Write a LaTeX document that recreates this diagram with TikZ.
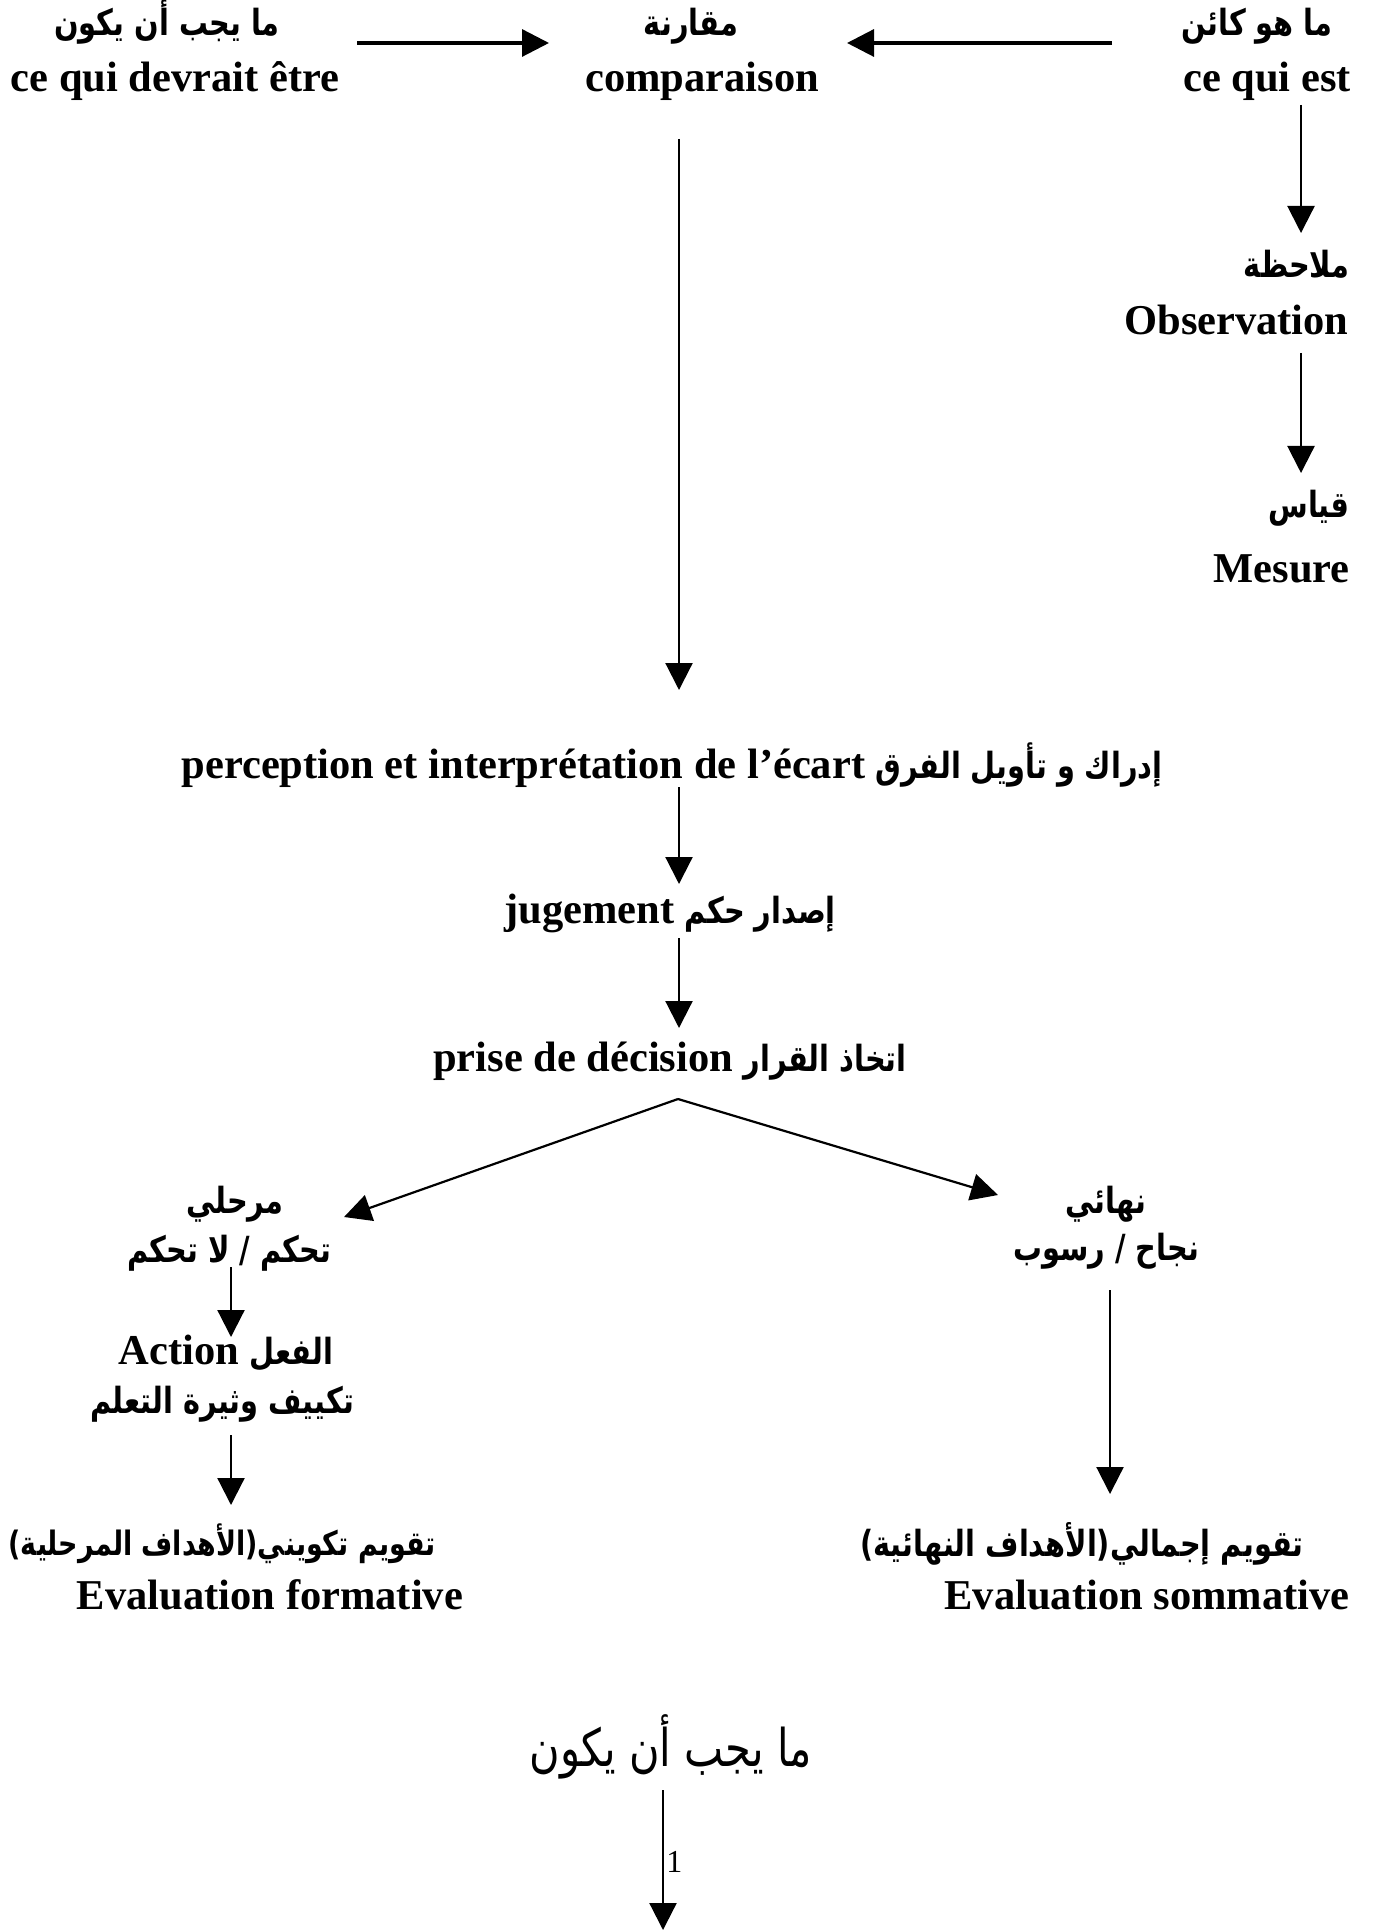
\documentclass[tikz,border=0pt]{standalone}
\usepackage{fontspec}
\setmainfont{Liberation Serif}
\newfontfamily\arabicfont[Script=Arabic,FakeStretch=0.8]{DejaVu Sans}
\TeXXeTstate=1
\usetikzlibrary{arrows.meta}
\newcommand\latb{\fontsize{21.25}{25}\selectfont\bfseries}
\newcommand\arb{\arabicfont\fontsize{18}{22}\selectfont\bfseries}
\newcommand\arbs{\arabicfont\fontsize{16.8}{21}\selectfont\bfseries}
\newcommand\arr{\arabicfont\fontsize{26}{30}\selectfont}
\newcommand\ar[1]{{\arb\beginR #1\endR}}
\begin{document}
\begin{tikzpicture}[x=0.5pt,y=-0.5pt,
  fr/.style={inner sep=0pt, anchor=base, font=\latb},
  frE/.style={inner sep=0pt, anchor=base east, font=\latb},
  arnode/.style={inner sep=0pt, anchor=base, font=\arb},
  arE/.style={inner sep=0pt, anchor=base east, font=\arb},
  conn/.style={line width=1.1pt, -{Triangle[length=13.5pt,width=13.5pt]}},
  thickconn/.style={line width=1.6pt, -{Triangle[length=13.5pt,width=13.5pt]}}]
\useasboundingbox (0,0) rectangle (1374,1930);
\fill[white] (0,0) rectangle (1374,1930);
% top row
\node[arnode] (tlar) at (167,36) {\beginR ما يجب أن يكون\endR};
\node[fr] (tlfr) at (175,92) {ce qui devrait être};
\node[arnode] (cmpar) at (691,36) {\beginR مقارنة\endR};
\node[fr] (cmpfr) at (702,92) {comparaison};
\node[arnode] (trar) at (1257,36) {\beginR ما هو كائن\endR};
\node[fr] (trfr) at (1267,92) {ce qui est};
% right column
\node[arE] (obsar) at (1350,278) {\beginR ملاحظة\endR};
\node[frE] (obsfr) at (1349,335) {Observation};
\node[arE] (mesar) at (1350,518) {\beginR قياس\endR};
\node[frE] (mesfr) at (1350,582) {Mesure};
% central column
\node[fr] (percep) at (672,778) {perception et interprétation de l’écart \ar{إدراك و تأويل الفرق}};
\node[fr] (jug) at (670,923) {jugement \ar{إصدار حكم}};
\node[fr] (prise) at (670,1071) {prise de décision \ar{اتخاذ القرار}};
% left branch
\node[arnode] (mrhl) at (235,1213) {\beginR مرحلي\endR};
\node[arnode] (tah) at (229,1262) {\beginR تحكم / لا تحكم\endR};
\node[fr] (action) at (226,1364) {Action \ar{الفعل}};
\node[arnode] (takyif) at (222,1413) {\beginR تكييف وثيرة التعلم\endR};
\node[arnode, font=\arbs] (formar) at (222,1555) {\beginR تقويم تكويني(الأهداف المرحلية)\endR};
\node[fr] (formfr) at (270,1609) {Evaluation formative};
% right branch
\node[arnode] (nihai) at (1106,1213) {\beginR نهائي\endR};
\node[arnode] (najah) at (1106,1260) {\beginR نجاح / رسوب\endR};
\node[arnode] (somar) at (1082,1556) {\beginR تقويم إجمالي(الأهداف النهائية)\endR};
\node[fr] (somfr) at (1147,1609) {Evaluation sommative};
% bottom
\node[inner sep=0pt, anchor=base, font=\arr] (bot) at (671,1766) {\beginR ما يجب أن يكون\endR};
\coordinate (botend) at (663,1930);
\node[inner sep=0pt, anchor=base west, font=\fontsize{16}{19}\selectfont] (one) at (666,1872) {1};
% connectors
\draw[thickconn] ([shift={(182,-49)}]tlfr.base) -- ([shift={(-153,-49)}]cmpfr.base);
\draw[thickconn] ([shift={(-155,-49)}]trfr.base) -- ([shift={(145,-49)}]cmpfr.base);
\draw[conn] ([shift={(-23,47)}]cmpfr.base) -- ([shift={(7,-88)}]percep.base);
\draw[conn] ([shift={(34,13)}]trfr.base) -- ([shift={(-49,-45)}]obsar.base east);
\draw[conn] ([shift={(-48,18)}]obsfr.base east) -- ([shift={(-49,-45)}]mesar.base east);
\draw[conn] ([shift={(7,9)}]percep.base) -- ([shift={(9,-39)}]jug.base);
\draw[conn] ([shift={(9,15)}]jug.base) -- ([shift={(9,-43)}]prise.base);
\draw[conn] ([shift={(8,28)}]prise.base) -- ([shift={(109,4)}]mrhl.base);
\draw[conn] ([shift={(8,28)}]prise.base) -- ([shift={(-108,-18)}]nihai.base);
\draw[conn] ([shift={(2,5)}]tah.base) -- ([shift={(5,-27)}]action.base);
\draw[conn] ([shift={(9,22)}]takyif.base) -- ([shift={(9,-50)}]formar.base);
\draw[conn] ([shift={(4,30)}]najah.base) -- ([shift={(28,-62)}]somar.base);
\draw[conn] ([shift={(-8,24)}]bot.base) -- (botend);
\end{tikzpicture}
\end{document}
